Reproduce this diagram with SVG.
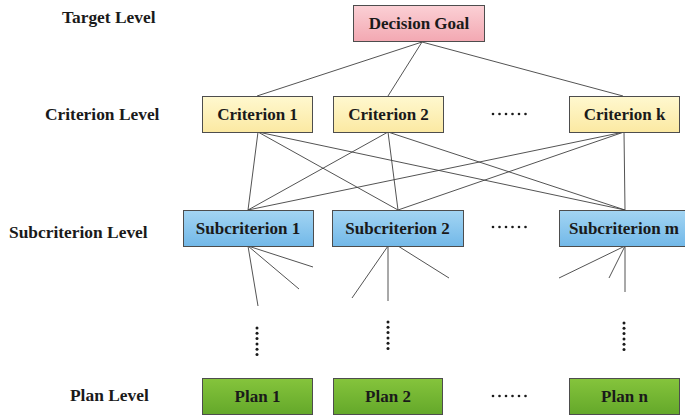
<svg xmlns="http://www.w3.org/2000/svg" width="685" height="417" viewBox="0 0 685 417">
  <defs>
    <linearGradient id="gPink" x1="0" y1="0" x2="0" y2="1">
      <stop offset="0" stop-color="#fbd0d5"/>
      <stop offset="1" stop-color="#f3a8b2"/>
    </linearGradient>
    <linearGradient id="gYellow" x1="0" y1="0" x2="0" y2="1">
      <stop offset="0" stop-color="#fff8cf"/>
      <stop offset="1" stop-color="#fbe9a2"/>
    </linearGradient>
    <linearGradient id="gBlue" x1="0" y1="0" x2="0" y2="1">
      <stop offset="0" stop-color="#a3d5f3"/>
      <stop offset="1" stop-color="#72b8e8"/>
    </linearGradient>
    <linearGradient id="gGreen" x1="0" y1="0" x2="0" y2="1">
      <stop offset="0" stop-color="#85c43c"/>
      <stop offset="1" stop-color="#64a82a"/>
    </linearGradient>
  </defs>
  <style>
    text { font-family: "Liberation Serif", "Times New Roman", serif; font-weight: bold; font-size: 17px; fill: #1a1a1a; }
    .lvl { font-size: 17.4px; }
    .c { text-anchor: middle; }
    .box { stroke: #4d4d4d; stroke-width: 1; }
    .goal { fill: url(#gPink); }
    .crit { fill: url(#gYellow); }
    .sub { fill: url(#gBlue); }
    .plan { fill: url(#gGreen); }
    #connectors line { stroke: #3f3f3f; stroke-width: 0.9; }
    .dot { fill: #1a1a1a; }
  </style>

  <rect width="685" height="417" fill="#ffffff"/>

  <!-- level labels -->
  <g id="levels" class="lvl">
    <text class="lvl" x="62" y="23">Target Level</text>
    <text class="lvl" x="45" y="120">Criterion Level</text>
    <text class="lvl" x="9" y="238">Subcriterion Level</text>
    <text class="lvl" x="70" y="401">Plan Level</text>
  </g>

  <!-- connectors -->
  <g id="connectors">
    <!-- goal to criteria -->
    <line x1="422" y1="42" x2="257" y2="96"/>
    <line x1="422" y1="42" x2="388" y2="96"/>
    <line x1="422" y1="42" x2="623" y2="96"/>
    <!-- criteria to subcriteria -->
    <line x1="258" y1="132" x2="248" y2="210"/>
    <line x1="258" y1="132" x2="398" y2="210"/>
    <line x1="258" y1="132" x2="625" y2="210"/>
    <line x1="388" y1="132" x2="248" y2="210"/>
    <line x1="388" y1="132" x2="398" y2="210"/>
    <line x1="388" y1="132" x2="625" y2="210"/>
    <line x1="624" y1="132" x2="248" y2="210"/>
    <line x1="624" y1="132" x2="398" y2="210"/>
    <line x1="624" y1="132" x2="625" y2="210"/>
    <!-- subcriteria fan-out -->
    <line x1="248" y1="246" x2="258" y2="306"/>
    <line x1="248" y1="246" x2="299" y2="289"/>
    <line x1="248" y1="246" x2="313" y2="267"/>
    <line x1="388" y1="246" x2="352" y2="298"/>
    <line x1="388" y1="246" x2="388" y2="301"/>
    <line x1="398" y1="246" x2="449" y2="278"/>
    <line x1="625" y1="246" x2="559" y2="278"/>
    <line x1="625" y1="246" x2="609" y2="278"/>
    <line x1="625" y1="246" x2="625" y2="292"/>
  </g>

  <!-- target level -->
  <g id="goal">
    <rect class="box goal" x="353.5" y="5.5" width="131" height="36"/>
    <text class="c" x="419" y="29">Decision Goal</text>
  </g>

  <!-- criterion level -->
  <g id="criterion1">
    <rect class="box crit" x="202.5" y="96.5" width="110" height="36"/>
    <text class="c" x="257.5" y="120">Criterion 1</text>
  </g>
  <g id="criterion2">
    <rect class="box crit" x="333.5" y="96.5" width="110" height="36"/>
    <text class="c" x="388.5" y="120">Criterion 2</text>
  </g>
  <g id="criterionk">
    <rect class="box crit" x="569.5" y="96.5" width="110" height="36"/>
    <text class="c" x="624.5" y="120">Criterion k</text>
  </g>

  <!-- subcriterion level -->
  <g id="subcriterion1">
    <rect class="box sub" x="183.5" y="210.5" width="130" height="36"/>
    <text class="c" x="248" y="234">Subcriterion 1</text>
  </g>
  <g id="subcriterion2">
    <rect class="box sub" x="332.5" y="210.5" width="131" height="36"/>
    <text class="c" x="397.5" y="234">Subcriterion 2</text>
  </g>
  <g id="subcriterionm">
    <rect class="box sub" x="559.5" y="210.5" width="131" height="36"/>
    <text class="c" x="624" y="234">Subcriterion m</text>
  </g>

  <!-- plan level -->
  <g id="plan1">
    <rect class="box plan" x="202.5" y="378.5" width="110" height="36"/>
    <text class="c" x="257.5" y="402">Plan 1</text>
  </g>
  <g id="plan2">
    <rect class="box plan" x="333.5" y="378.5" width="109" height="36"/>
    <text class="c" x="388" y="402">Plan 2</text>
  </g>
  <g id="plann">
    <rect class="box plan" x="569.5" y="378.5" width="110" height="36"/>
    <text class="c" x="624.5" y="402">Plan n</text>
  </g>

  <!-- ellipses -->
  <g id="ellipses" class="dot">
    <!-- horizontal -->
    <circle cx="493" cy="114" r="1.3"/><circle cx="499.5" cy="114" r="1.3"/><circle cx="506" cy="114" r="1.3"/>
    <circle cx="512.5" cy="114" r="1.3"/><circle cx="519" cy="114" r="1.3"/><circle cx="525.5" cy="114" r="1.3"/>
    <circle cx="493" cy="227" r="1.3"/><circle cx="499.5" cy="227" r="1.3"/><circle cx="506" cy="227" r="1.3"/>
    <circle cx="512.5" cy="227" r="1.3"/><circle cx="519" cy="227" r="1.3"/><circle cx="525.5" cy="227" r="1.3"/>
    <circle cx="493" cy="396" r="1.3"/><circle cx="499.5" cy="396" r="1.3"/><circle cx="506" cy="396" r="1.3"/>
    <circle cx="512.5" cy="396" r="1.3"/><circle cx="519" cy="396" r="1.3"/><circle cx="525.5" cy="396" r="1.3"/>
    <!-- vertical -->
    <circle cx="257" cy="328" r="1.5"/><circle cx="257" cy="333.3" r="1.5"/><circle cx="257" cy="338.6" r="1.5"/>
    <circle cx="257" cy="343.9" r="1.5"/><circle cx="257" cy="349.2" r="1.5"/><circle cx="257" cy="354.5" r="1.5"/>
    <circle cx="388" cy="322" r="1.5"/><circle cx="388" cy="327.3" r="1.5"/><circle cx="388" cy="332.6" r="1.5"/>
    <circle cx="388" cy="337.9" r="1.5"/><circle cx="388" cy="343.2" r="1.5"/><circle cx="388" cy="348.5" r="1.5"/>
    <circle cx="624" cy="323" r="1.5"/><circle cx="624" cy="328.3" r="1.5"/><circle cx="624" cy="333.6" r="1.5"/>
    <circle cx="624" cy="338.9" r="1.5"/><circle cx="624" cy="344.2" r="1.5"/><circle cx="624" cy="349.5" r="1.5"/>
  </g>
</svg>
